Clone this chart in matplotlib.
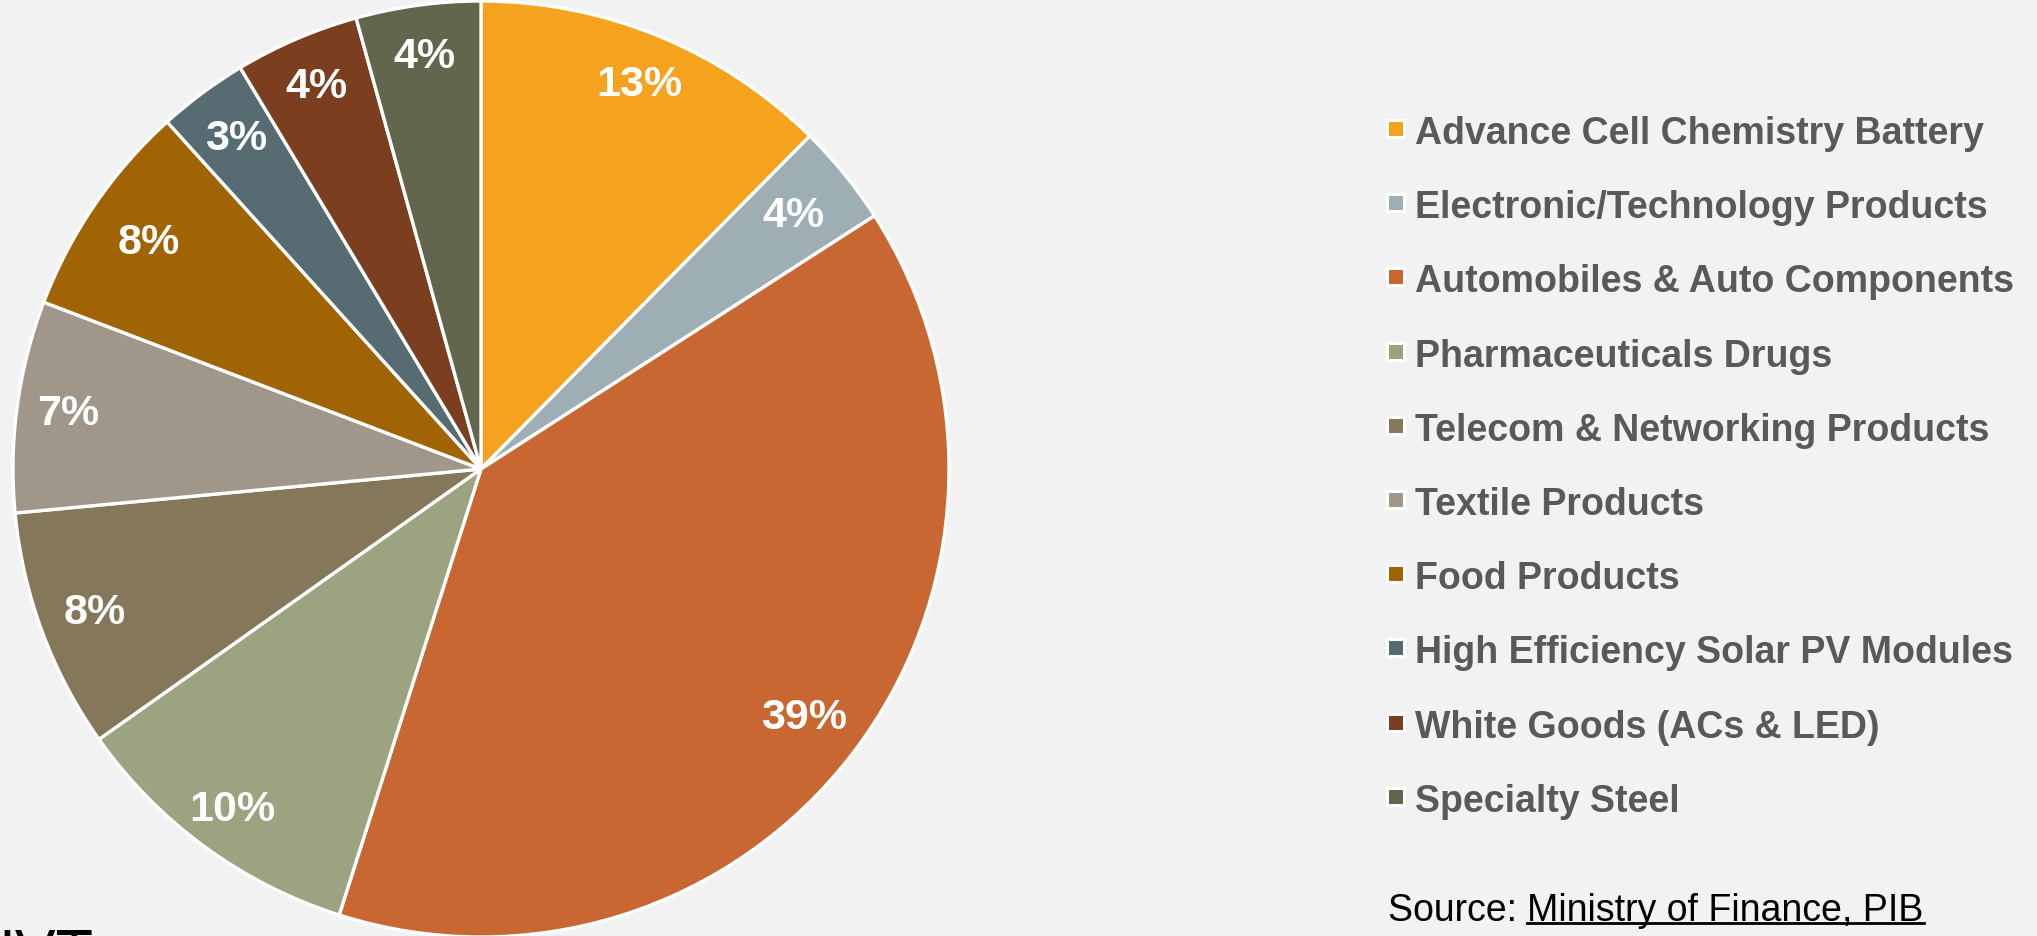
import numpy as np
import matplotlib.pyplot as plt
from matplotlib.patches import Rectangle
from matplotlib.lines import Line2D

# PLI scheme outlay share by sector (%)
categories = [
    "Advance Cell Chemistry Battery",
    "Electronic/Technology Products",
    "Automobiles & Auto Components",
    "Pharmaceuticals Drugs",
    "Telecom & Networking Products",
    "Textile Products",
    "Food Products",
    "High Efficiency Solar PV Modules",
    "White Goods (ACs & LED)",
    "Specialty Steel",
]
shares = [12.4, 3.5, 39.0, 10.3, 8.3, 7.3, 7.5, 3.1, 4.3, 4.3]
pct_labels = ["13%", "4%", "39%", "10%", "8%", "7%", "8%", "3%", "4%", "4%"]
colors = ["#F5A31E", "#9DAFB4", "#C86732", "#9BA380", "#85775A",
          "#A0978A", "#A06405", "#566C72", "#7B3E1F", "#62664D"]

plt.rcParams['font.family'] = ['Liberation Sans', 'DejaVu Sans']

W, H = 2037, 937
fig = plt.figure(figsize=(W / 100, H / 100), dpi=100, facecolor="#F2F2F2")

# pie axes: centre (481, 470) px, radius ~468 px
cx, cy, r = 481, 470, 468
ax = fig.add_axes([(cx - r) / W, (H - cy - r) / H, 2 * r / W, 2 * r / H])
ax.set_facecolor("none")
ax.axis("off")

wedges, _ = ax.pie(shares, colors=colors, startangle=90, counterclock=False,
                   radius=1.0, wedgeprops=dict(edgecolor="white", linewidth=2.4))
ax.set_xlim(-1, 1)
ax.set_ylim(-1, 1)
ax.set_aspect("equal")

label_r = [0.89, 0.86, 0.87, 0.90, 0.88, 0.89, 0.86, 0.88, 0.89, 0.89]
for w, lab, lr in zip(wedges, pct_labels, label_r):
    ang = np.deg2rad((w.theta1 + w.theta2) / 2)
    ax.text(lr * np.cos(ang), lr * np.sin(ang), lab, ha="center", va="center",
            color="white", fontsize=31, fontweight="bold")

# legend
for i, name in enumerate(categories):
    y = 130 + i * 74.2
    fig.add_artist(Rectangle(((1396 - 10) / W, (H - y - 10) / H), 20 / W, 20 / H,
                             facecolor="white", edgecolor="none", transform=fig.transFigure))
    fig.add_artist(Rectangle(((1396 - 7) / W, (H - y - 7) / H), 14 / W, 14 / H,
                             facecolor=colors[i], edgecolor="none", transform=fig.transFigure))
    fig.text(1415 / W, (H - y) / H, name, ha="left", va="center_baseline",
             fontsize=27, fontweight="bold", color="#595959")

# source line with underlined part
sy = (H - 907) / H
t1 = fig.text(1388 / W, sy, "Source: ", ha="left", va="center_baseline",
              fontsize=27, color="black")
fig.canvas.draw()
renderer = fig.canvas.get_renderer()
bb = t1.get_window_extent(renderer)
x2 = bb.x1 / W
t2 = fig.text(x2, sy, "Ministry of Finance, PIB", ha="left", va="center_baseline",
              fontsize=27, color="black")
bb2 = t2.get_window_extent(renderer)
uy = (bb2.y0 + 5) / H
fig.add_artist(Line2D([bb2.x0 / W, bb2.x1 / W], [uy, uy], color="black",
                      linewidth=2, transform=fig.transFigure))

# cut-off footer text at bottom-left: cap tops at ~y=931 px, rest below the edge
fig.text(-0.001, (H - 972) / H, "IVT", ha="left", va="baseline", fontsize=44,
         color="black")

fig.savefig("out.png", dpi=100, facecolor=fig.get_facecolor())
